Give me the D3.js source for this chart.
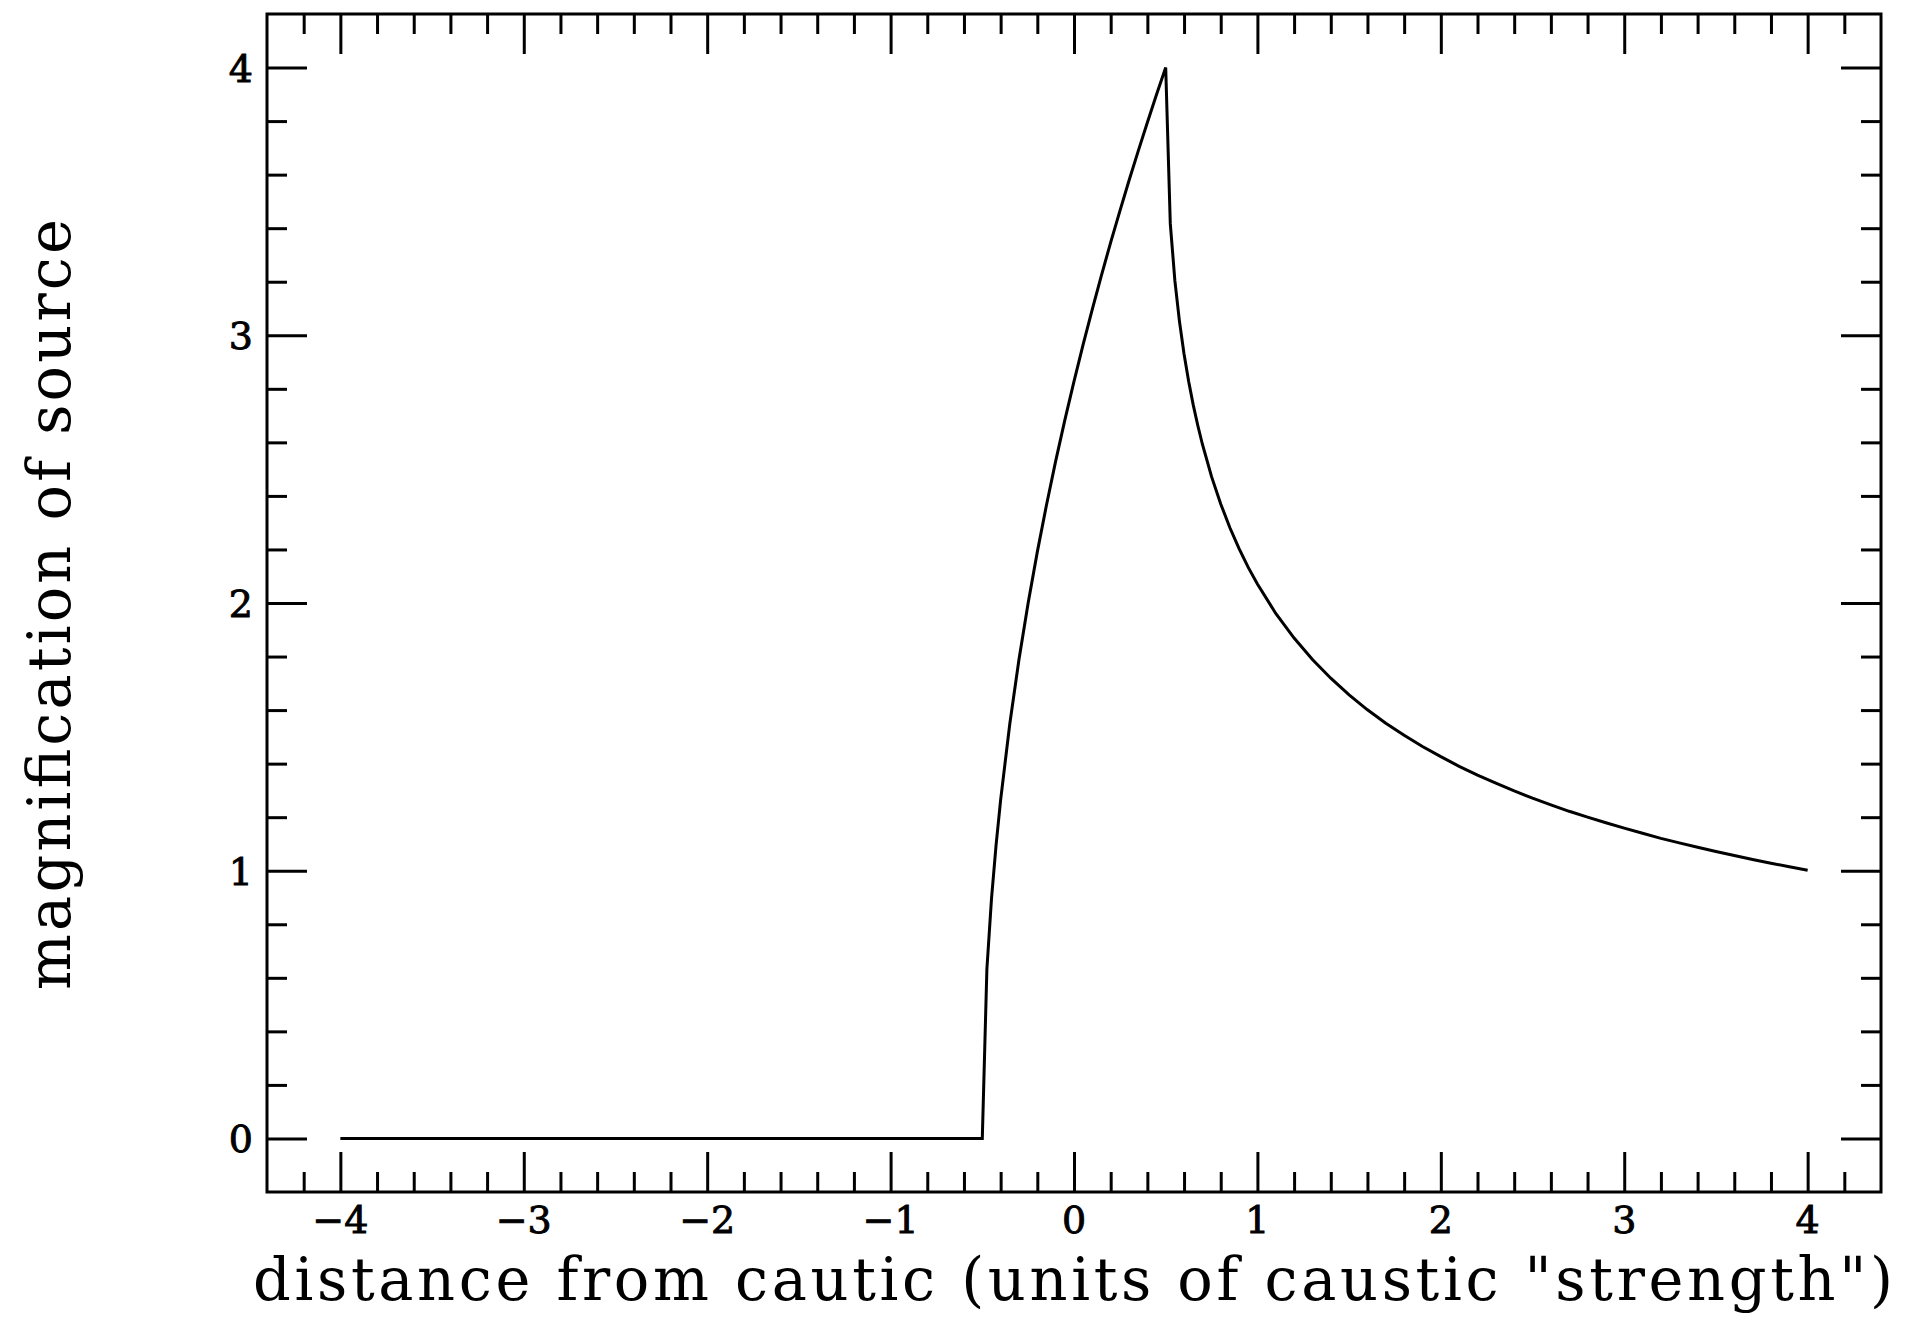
<!DOCTYPE html>
<html>
<head>
<meta charset="utf-8">
<script src="https://cdn.jsdelivr.net/npm/d3@7"></script>
<style>
  html, body { margin: 0; padding: 0; background: #fff; }
  svg { display: block; }
</style>
</head>
<body>
<svg id="chart" width="1905" height="1341"></svg>
<script>
// Magnification of a finite source as it crosses a fold caustic.
// Positions along the track (units of caustic "strength")
const distance = [
  -4.0, -0.5,
  -0.475, -0.45, -0.425, -0.4, -0.35, -0.3, -0.25, -0.2, -0.15, -0.1, -0.05,
  0.0, 0.05, 0.1, 0.15, 0.2, 0.25, 0.3, 0.35, 0.4, 0.45, 0.5,
  0.525, 0.55, 0.575, 0.6, 0.625, 0.65, 0.675, 0.7, 0.75, 0.8, 0.85, 0.9, 0.95,
  1.0, 1.1, 1.2, 1.3, 1.4, 1.5, 1.6, 1.7, 1.8, 1.9,
  2.0, 2.1, 2.2, 2.3, 2.4, 2.5, 2.6, 2.7, 2.8, 2.9,
  3.0, 3.1, 3.2, 3.3, 3.4, 3.5, 3.6, 3.7, 3.8, 3.9, 4.0
];
// Magnification at each position
const magnification = [
  0.000, 0.000,
  0.632, 0.894, 1.095, 1.265, 1.549, 1.789, 2.000, 2.191, 2.366, 2.530, 2.683,
  2.828, 2.966, 3.098, 3.225, 3.347, 3.464, 3.578, 3.688, 3.795, 3.899, 4.000,
  3.417, 3.204, 3.052, 2.930, 2.828, 2.740, 2.663, 2.593, 2.472, 2.370, 2.281, 2.203, 2.133,
  2.071, 1.961, 1.869, 1.789, 1.719, 1.657, 1.601, 1.551, 1.506, 1.464,
  1.426, 1.390, 1.357, 1.327, 1.298, 1.271, 1.246, 1.222, 1.200, 1.179,
  1.159, 1.140, 1.121, 1.104, 1.088, 1.072, 1.057, 1.042, 1.028, 1.015, 1.002
];

const xTickValues = [-4, -3, -2, -1, 0, 1, 2, 3, 4];
const xTickLabels = ["\u22124", "\u22123", "\u22122", "\u22121", "0", "1", "2", "3", "4"];
const yTickValues = [0, 1, 2, 3, 4];
const yTickLabels = ["0", "1", "2", "3", "4"];

const xLabel = "distance from cautic (units of caustic \"strength\")";
const yLabel = "magnification of source";

const frame = { left: 267, right: 1881, top: 14, bottom: 1192 };
const majorLen = 40, minorLen = 20;
const serif = "'DejaVu Serif', 'Liberation Serif', serif";

const svg = d3.select("#chart");

const x = d3.scaleLinear().domain([-4.4, 4.4]).range([frame.left, frame.right]);
const y = d3.scaleLinear().domain([-0.2, 4.2]).range([frame.bottom, frame.top]);

const near = (a, list) => list.some(v => Math.abs(v - a) < 1e-6);
const xMinor = d3.range(-21, 22).map(i => i * 0.2).filter(v => !near(v, xTickValues) && v > -4.4 && v < 4.4);
const yMinor = d3.range(0, 22).map(i => i * 0.2).filter(v => !near(v, yTickValues) && v < 4.2);

// inward-pointing ticks on all four sides
function addAxis(axisFn, scale, values, len, transform) {
  const g = svg.append("g")
    .attr("transform", transform)
    .call(axisFn(scale).tickValues(values).tickSize(-len).tickFormat(""));
  g.select(".domain").remove();
  g.selectAll(".tick line").attr("stroke", "#000").attr("stroke-width", 3);
  return g;
}
addAxis(d3.axisBottom, x, xTickValues, majorLen, `translate(0,${frame.bottom})`);
addAxis(d3.axisBottom, x, xMinor, minorLen, `translate(0,${frame.bottom})`);
addAxis(d3.axisTop, x, xTickValues, majorLen, `translate(0,${frame.top})`);
addAxis(d3.axisTop, x, xMinor, minorLen, `translate(0,${frame.top})`);
addAxis(d3.axisLeft, y, yTickValues, majorLen, `translate(${frame.left},0)`);
addAxis(d3.axisLeft, y, yMinor, minorLen, `translate(${frame.left},0)`);
addAxis(d3.axisRight, y, yTickValues, majorLen, `translate(${frame.right},0)`);
addAxis(d3.axisRight, y, yMinor, minorLen, `translate(${frame.right},0)`);

// frame
svg.append("rect")
  .attr("x", frame.left).attr("y", frame.top)
  .attr("width", frame.right - frame.left).attr("height", frame.bottom - frame.top)
  .attr("fill", "none").attr("stroke", "#000").attr("stroke-width", 3);

// tick labels
svg.append("g").selectAll("text")
  .data(xTickValues)
  .join("text")
  .attr("x", d => x(d))
  .attr("y", frame.bottom + 41)
  .attr("text-anchor", "middle")
  .attr("font-family", serif)
  .attr("font-size", 38)
  .attr("stroke", "#000")
  .attr("stroke-width", 0.9)
  .text((d, i) => xTickLabels[i]);

svg.append("g").selectAll("text")
  .data(yTickValues)
  .join("text")
  .attr("x", frame.left - 14)
  .attr("y", d => y(d) + 14)
  .attr("text-anchor", "end")
  .attr("font-family", serif)
  .attr("font-size", 38)
  .attr("stroke", "#000")
  .attr("stroke-width", 0.9)
  .text((d, i) => yTickLabels[i]);

// axis titles
svg.append("text")
  .attr("x", 253)
  .attr("y", 1300)
  .attr("font-family", serif)
  .attr("font-size", 59)
  .attr("textLength", 1640)
  .attr("lengthAdjust", "spacing")
  .text(xLabel);

svg.append("text")
  .attr("transform", `translate(70,990) rotate(-90)`)
  .attr("font-family", serif)
  .attr("font-size", 59)
  .attr("textLength", 771)
  .attr("lengthAdjust", "spacing")
  .text(yLabel);

// magnification curve
const pts = distance.map((d, i) => [d, magnification[i]]);
svg.append("path")
  .datum(pts)
  .attr("fill", "none")
  .attr("stroke", "#000")
  .attr("stroke-width", 3)
  .attr("stroke-linejoin", "miter")
  .attr("d", d3.line().x(d => x(d[0])).y(d => y(d[1])));
</script>
</body>
</html>
